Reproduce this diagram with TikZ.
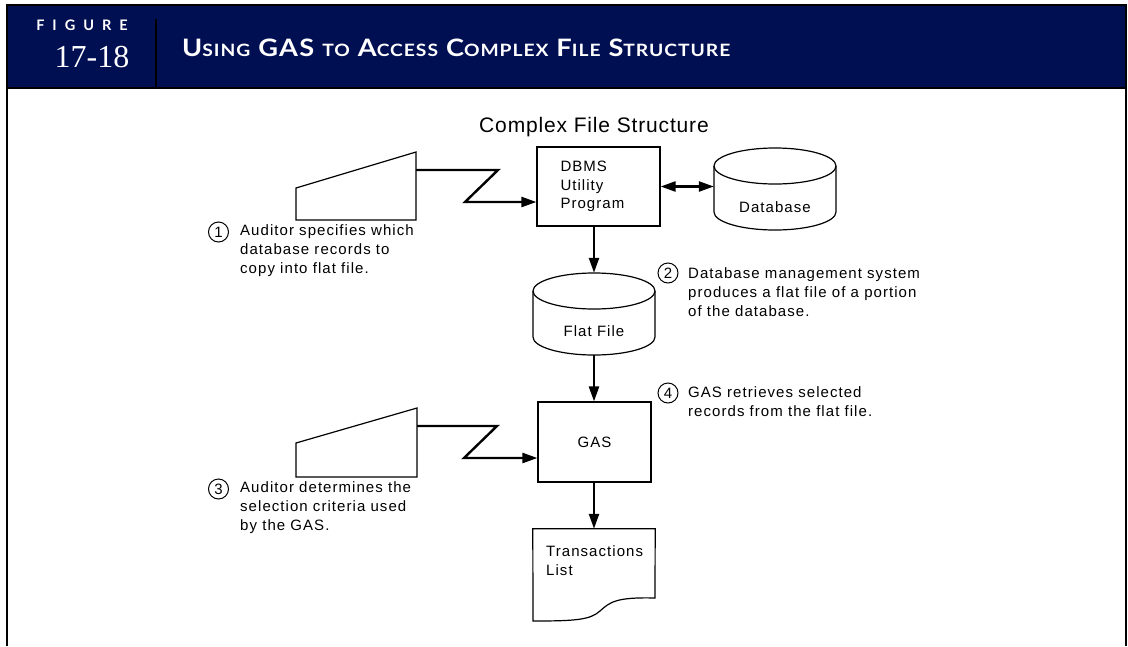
\documentclass[tikz,border=0pt]{standalone}
\usepackage{fontspec}
\setmainfont{Liberation Sans}
\newfontfamily\hdrfont{Lato}
\newfontfamily\titlefont{Lato}[LetterSpace=5]
\newfontfamily\numfont{Liberation Serif}
\newfontfamily\bodyfont{Liberation Sans}[LetterSpace=7]
\newfontfamily\headfont{Liberation Sans}[LetterSpace=4]
\usetikzlibrary{arrows.meta}
\definecolor{navy}{RGB}{0,14,82}
\newcommand{\smc}[1]{{\fontsize{17}{17}\selectfont #1}}
\begin{document}
\begin{tikzpicture}[x=1pt,y=-1pt,
  box/.style={draw, line width=1.2pt, inner sep=0pt},
  flow/.style={line width=2.4pt, -{Triangle[length=15pt,width=10pt]}},
  both/.style={line width=2.4pt, {Triangle[length=15pt,width=10pt]}-{Triangle[length=15pt,width=10pt]}},
  outline/.style={draw, line width=1.2pt, line join=miter},
  holder/.style={inner sep=0pt, minimum width=122pt},
  txt/.style={font=\bodyfont\fontsize{15}{19}\selectfont, align=left, inner sep=0pt, anchor=west},
  num/.style={draw, circle, line width=1pt, minimum size=20pt, inner sep=0pt, font=\bodyfont\fontsize{15}{19}\selectfont},
  frame/.style={line width=2pt}
]
\useasboundingbox (0,0) rectangle (1128,646);
% header
\fill[navy] (7,5) rectangle (1126,88);
\draw[frame] (7,646) -- (7,5) -- (1126,5) -- (1126,646);
\draw[frame] (7,88) -- (1126,88);
\draw[frame] (156,19) -- (156,88);
\node (fig) [anchor=base, text=white, inner sep=0pt, font=\hdrfont\bfseries\fontsize{14.5}{14.5}\selectfont] at (82,30) {F\kern8pt I\kern8pt G\kern8pt U\kern8pt R\kern8pt E};
\node (fignum) [anchor=base, text=white, inner sep=0pt, font=\numfont\fontsize{32}{32}\selectfont] at (92,67) {17-18};
\node (title) [anchor=base west, text=white, inner sep=0pt, font=\titlefont\bfseries\fontsize{24}{24}\selectfont] at (182,56)
  {\scalebox{1.133}[1]{U\smc{SING} GAS \smc{TO} A\smc{CCESS} C\smc{OMPLEX} F\smc{ILE} S\smc{TRUCTURE}}};
% diagram title
\node (cfs) [anchor=base, inner sep=0pt, font=\headfont\fontsize{21}{21}\selectfont] at (594,132) {Complex File Structure};
% DBMS box
\node (dbms) [box, minimum width=123pt, minimum height=79pt, text width=76pt, align=left, inner xsep=23pt, font=\bodyfont\fontsize{15}{18.5}\selectfont] at (598.5,186.5) {DBMS\\Utility\\Program};
% Database cylinder
\node (db) [holder, minimum height=82pt] at (775,189) {};
\draw[outline] (775,166) ellipse [x radius=61pt, y radius=18pt];
\draw[outline] (714,166) -- (714,212) arc[start angle=180, end angle=360, x radius=61pt, y radius=18pt] -- (836,166);
\node (dblabel) [inner sep=0pt, font=\bodyfont\fontsize{15}{19}\selectfont] at (775,207) {Database};
% Flat file cylinder
\node (ff) [holder, minimum height=82pt] at (594,314) {};
\draw[outline] (594,291) ellipse [x radius=61pt, y radius=18pt];
\draw[outline] (533,291) -- (533,337) arc[start angle=180, end angle=360, x radius=61pt, y radius=18pt] -- (655,291);
\node (fflabel) [inner sep=0pt, font=\bodyfont\fontsize{15}{19}\selectfont] at (594,331) {Flat File};
% GAS box
\node (gas) [box, minimum width=113pt, minimum height=80pt, font=\bodyfont\fontsize{15}{19}\selectfont] at (594.5,442) {GAS};
% Document
\node (doc) [holder, minimum height=92pt] at (594,575) {};
\draw[outline] (doc.north west) -- (doc.north east) -- (655,598) .. controls (616,597) and (610,602) .. (600,611) .. controls (590,620) and (575,621) .. (533,621) -- cycle;
\node (doclabel) [anchor=north west, inner sep=0pt, align=left, font=\bodyfont\fontsize{15}{19}\selectfont] at (546,545) {Transactions\\List};
% manual inputs
\draw[outline] (296,188) -- (416,152) -- (416,220) -- (296,220) -- cycle;
\draw[outline] (296,443) -- (417,408) -- (417,477) -- (296,477) -- cycle;
\coordinate (in1) at (416,170);
\coordinate (j1) at (498,170);
\coordinate (k1) at (465,202);
\coordinate (in2) at (417,426);
\coordinate (j2) at (497,426);
\coordinate (k2) at (464,458);
% connectors
\draw[flow] (in1) -- (j1) -- (k1) -- (dbms.west |- k1);
\draw[flow] (in2) -- (j2) -- (k2) -- (gas.west |- k2);
\draw[both] (dbms.east) -- (db.west |- dbms.east);
\draw[flow] (dbms.south -| ff.north) -- (ff.north);
\draw[flow] (ff.south) -- (gas.north -| ff.south);
\draw[flow] (gas.south -| doc.north) -- (doc.north);
% notes
\node (n1) [num] at (218.5,232) {1};
\node (t1) [txt] at (240,251) {Auditor specifies which\\database records to\\copy into flat file.};
\node (n2) [num] at (668,273) {2};
\node (t2) [txt] at (688,292.5) {Database management system\\produces a flat file of a portion\\of the database.};
\node (n4) [num] at (668,393) {4};
\node (t4) [txt] at (688,402) {GAS retrieves selected\\records from the flat file.};
\node (n3) [num] at (218.5,489) {3};
\node (t3) [txt] at (240,508) {Auditor determines the\\selection criteria used\\by the GAS.};
\end{tikzpicture}
\end{document}
